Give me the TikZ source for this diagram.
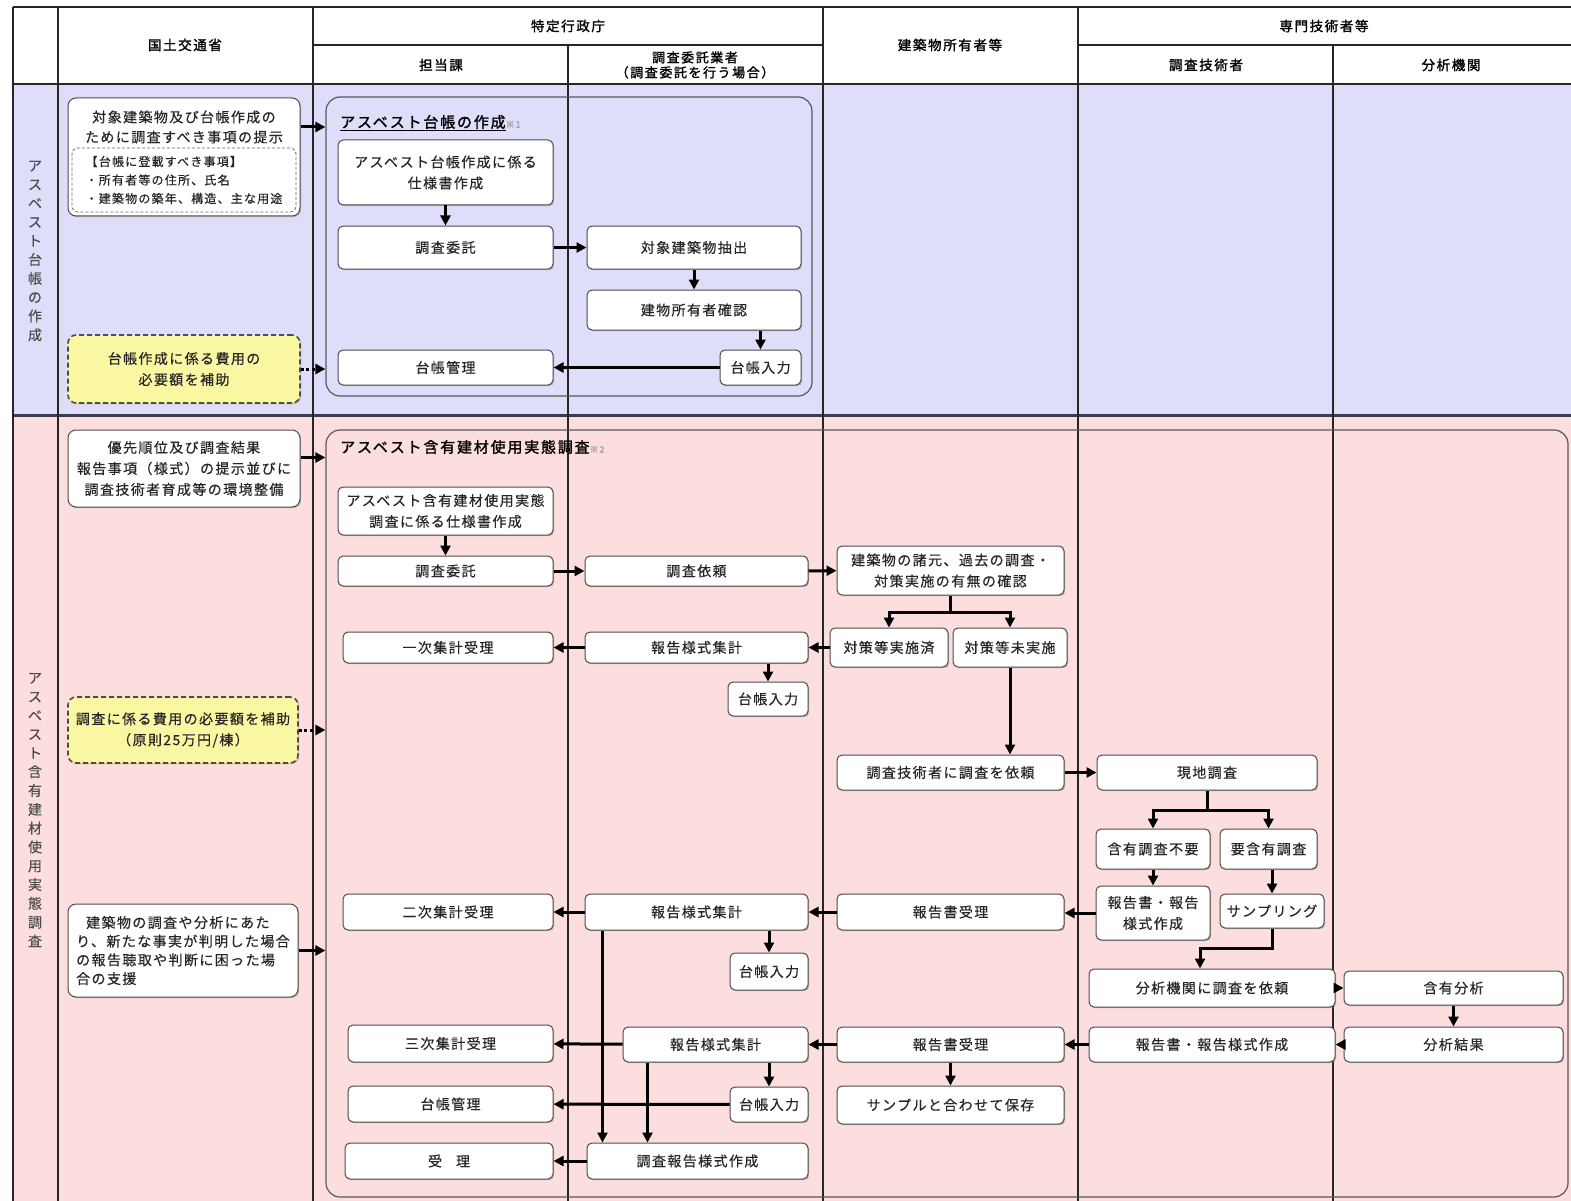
\documentclass[tikz,border=0pt]{standalone}
\usepackage{fontspec}
\newfontfamily\jp{Noto Sans CJK JP}[LetterSpace=10,FakeBold=0.4]
\newfontfamily\jpb{Noto Sans CJK JP}[LetterSpace=12,FakeBold=1.6]
\usetikzlibrary{arrows.meta,shadows}
\definecolor{lav}{HTML}{DEDEFA}
\definecolor{pnk}{HTML}{FDDEDE}
\definecolor{ylw}{HTML}{FAF7A2}
\definecolor{divc}{HTML}{3C3C52}

\begin{document}
\begin{tikzpicture}[x=1pt,y=-1pt,
    box/.style={draw=black!70, fill=white, rounded corners=5pt, line width=1pt,
                align=center, inner sep=0pt, text=black!85,
                drop shadow={shadow xshift=1.2pt, shadow yshift=-1.2pt, fill=black!50, opacity=0.45},
                font=\jp\fontsize{14}{21}\selectfont},
    aid/.style={box, fill=ylw, dash pattern=on 5pt off 3pt, line width=1.6pt, rounded corners=8pt},
    note/.style={draw=black!60, dash pattern=on 3pt off 2pt, rounded corners=6pt, line width=0.8pt,
                 align=left, inner sep=0pt, text=black!85, font=\jp\fontsize{12}{18.5}\selectfont},
    group/.style={draw=black!65, line width=1.2pt, rounded corners=14pt, inner sep=0pt},
    head/.style={font=\jpb\fontsize{13.5}{16}\selectfont, align=center},
    lane/.style={font=\jp\fontsize{14}{18.8}\selectfont, align=center, text=black!70},
    arr/.style={line width=3pt, -{Triangle[length=10pt,width=10pt]}},
    dotarr/.style={arr, dash pattern=on 3pt off 2.6pt},
    colline/.style={line width=1.4pt, black!85}]
  \useasboundingbox (0,0) rectangle (1571,1201);

  % lane backgrounds
  \fill[lav] (13,84) rectangle (1571,415);
  \fill[pnk] (13,415) rectangle (1571,1201);

  % table lines
  \draw[colline, line width=2pt] (13,7) -- (1571,7);
  \draw[colline] (313,45) -- (823,45) (1078,45) -- (1571,45);
  \draw[colline, line width=2pt] (13,84) -- (1571,84);
  \draw[divc, line width=3pt] (13,415) -- (1571,415);
  \foreach \x in {13,58,313,823,1078}
    \draw[colline] (\x,7) -- (\x,1201);
  \foreach \x in {568,1333}
    \draw[colline] (\x,45) -- (\x,1201);

  % header
  \node[head] (hmlit) at (185,45) {国土交通省};
  \node[head] (htoku) at (568,26) {特定行政庁};
  \node[head] (htanto) at (441,65) {担当課};
  \node[head, font=\jpb\fontsize{13}{15}\selectfont] (hitaku) at (695,65) {調査委託業者\\（調査委託を行う場合）};
  \node[head] (howner) at (950,45) {建築物所有者等};
  \node[head] (hsenmon) at (1324,26) {専門技術者等};
  \node[head] (hgishi) at (1206,65) {調査技術者};
  \node[head] (hbunseki) at (1451,65) {分析機関};

  \node[lane] (lane1) at (35,251) {ア\\ス\\ベ\\ス\\ト\\台\\帳\\の\\作\\成};
  \node[lane] (lane2) at (35,810) {ア\\ス\\ベ\\ス\\ト\\含\\有\\建\\材\\使\\用\\実\\態\\調\\査};

  % groups
  \node[group, minimum width=486, minimum height=299] (g1) at (569,246.5) {};
  \node[group, minimum width=1242, minimum height=767] (g2) at (947,813.5) {};
  \node[anchor=west, inner sep=0pt, font=\jpb\fontsize{15}{18}\selectfont] (g1title) at (340,123)
    {\underline{アスベスト台帳の作成}\textcolor{black!40}{\jp\fontsize{9}{9}\selectfont ※1}};
  \node[anchor=west, inner sep=0pt, font=\jpb\fontsize{15}{18}\selectfont] (g2title) at (340,447)
    {アスベスト含有建材使用実態調査\textcolor{black!40}{\jp\fontsize{9}{9}\selectfont ※2}};

  % ---- アスベスト台帳の作成
  \node[box, minimum width=232, minimum height=118, rounded corners=8pt] (tdai) at (184,157) {};
  \node[align=center, text=black!85, font=\jp\fontsize{14}{20}\selectfont] (tdaitext) at (184,127)
    {対象建築物及び台帳作成の\\ために調査すべき事項の提示};
  \node[note, minimum width=224, minimum height=64] (tnote) at (184,180)
    {【台帳に登載すべき事項】\\・所有者等の住所、氏名\\・建築物の築年、構造、主な用途};
  \node[aid, minimum width=232, minimum height=68] (hojo1) at (184,369) {台帳作成に係る費用の\\必要額を補助};

  \node[box, minimum width=215, minimum height=65] (shiyo1) at (445.5,172.5) {アスベスト台帳作成に係る\\仕様書作成};
  \node[box, minimum width=215, minimum height=43] (itaku1) at (445.5,247.5) {調査委託};
  \node[box, minimum width=214, minimum height=43] (chusyutsu) at (694,247.5) {対象建築物抽出};
  \node[box, minimum width=214, minimum height=40] (kakunin) at (694,310) {建物所有者確認};
  \node[box, minimum width=81, minimum height=35] (nyuryoku1) at (760.5,367.5) {台帳入力};
  \node[box, minimum width=215, minimum height=35] (kanri1) at (445.5,367.5) {台帳管理};

  \draw[arr] (tdai.east |- tdaitext) -- (g1.west |- tdaitext);
  \draw[dotarr] (hojo1.east) -- (g1.west |- hojo1.east);
  \draw[arr] (shiyo1) -- (itaku1);
  \draw[arr] (itaku1) -- (chusyutsu);
  \draw[arr] (chusyutsu) -- (kakunin);
  \draw[arr] (kakunin.south -| nyuryoku1) -- (nyuryoku1.north);
  \draw[arr] (nyuryoku1) -- (kanri1);

  % ---- アスベスト含有建材使用実態調査
  \node[box, minimum width=232, minimum height=77, rounded corners=8pt] (yusen) at (184,468.5)
    {優先順位及び調査結果\\報告事項（様式）の提示並びに\\調査技術者育成等の環境整備};
  \node[aid, minimum width=230, minimum height=66] (hojo2) at (183,730) {調査に係る費用の必要額を補助\\（原則25万円/棟）};
  \node[box, minimum width=230, minimum height=93, rounded corners=8pt, align=left,
        font=\jp\fontsize{14}{18.7}\selectfont] (shien) at (183,950.5)
    {\hspace{10pt}建築物の調査や分析にあた\\り、新たな事実が判明した場合\\の報告聴取や判断に困った場\\合の支援};

  \node[box, minimum width=215, minimum height=48] (shiyo2) at (445.5,511) {アスベスト含有建材使用実態\\調査に係る仕様書作成};
  \node[box, minimum width=215, minimum height=30] (itaku2) at (445.5,571) {調査委託};
  \node[box, minimum width=223, minimum height=30] (irai) at (696.5,571) {調査依頼};
  \node[box, minimum width=227, minimum height=49] (shogen) at (950.5,570.5) {建築物の諸元、過去の調査・\\対策実施の有無の確認};
  \node[box, minimum width=118, minimum height=39] (sumi) at (889,647.5) {対策等実施済};
  \node[box, minimum width=114, minimum height=39] (mijisshi) at (1010,647.5) {対策等未実施};
  \node[box, minimum width=223, minimum height=31] (shukei1) at (696.5,647.5) {報告様式集計};
  \node[box, minimum width=210, minimum height=31] (ichiji) at (448,647.5) {一次集計受理};
  \node[box, minimum width=80, minimum height=34] (nyuryoku2) at (768,699) {台帳入力};

  \node[box, minimum width=227, minimum height=35] (gijutsu) at (950.5,772.5) {調査技術者に調査を依頼};
  \node[box, minimum width=220, minimum height=35] (genchi) at (1207,772.5) {現地調査};
  \node[box, minimum width=114, minimum height=40] (fuyo) at (1153,849) {含有調査不要};
  \node[box, minimum width=97, minimum height=40] (yo) at (1268.5,849) {要含有調査};
  \node[box, minimum width=114, minimum height=54] (hokoku1) at (1153,913) {報告書・報告\\様式作成};
  \node[box, minimum width=104, minimum height=34] (sampling) at (1272,911) {サンプリング};
  \node[box, minimum width=227, minimum height=36] (juri1) at (950.5,912) {報告書受理};
  \node[box, minimum width=223, minimum height=36] (shukei2) at (696.5,912) {報告様式集計};
  \node[box, minimum width=210, minimum height=36] (niji) at (448,912) {二次集計受理};
  \node[box, minimum width=78, minimum height=37] (nyuryoku3) at (769,971.5) {台帳入力};

  \node[box, minimum width=246, minimum height=38] (bunseki) at (1212,988) {分析機関に調査を依頼};
  \node[box, minimum width=219, minimum height=34] (ganyu) at (1453.5,988) {含有分析};
  \node[box, minimum width=219, minimum height=35] (kekka) at (1453.5,1044.5) {分析結果};
  \node[box, minimum width=246, minimum height=35] (hokoku2) at (1212,1044.5) {報告書・報告様式作成};
  \node[box, minimum width=227, minimum height=35] (juri2) at (950.5,1044.5) {報告書受理};
  \node[box, minimum width=227, minimum height=38] (hozon) at (950.5,1105) {サンプルと合わせて保存};
  \node[box, minimum width=185, minimum height=35] (shukei3) at (715.5,1044.5) {報告様式集計};
  \node[box, minimum width=205, minimum height=37] (sanji) at (450.5,1043.5) {三次集計受理};
  \node[box, minimum width=78, minimum height=35] (nyuryoku4) at (769,1104.5) {台帳入力};
  \node[box, minimum width=205, minimum height=36] (kanri2) at (450.5,1104) {台帳管理};
  \node[box, minimum width=221, minimum height=36] (chosa) at (697.5,1161) {調査報告様式作成};
  \node[box, minimum width=208, minimum height=36] (uketori) at (449,1161) {受\hspace{14pt}理};

  \coordinate (yusenout) at ([yshift=11pt]yusen.east);
  \draw[arr] (yusenout) -- (g2.west |- yusenout);
  \draw[dotarr] (hojo2.east) -- (g2.west |- hojo2.east);
  \draw[arr] (shien.east) -- (g2.west |- shien.east);

  \draw[arr] (shiyo2) -- (itaku2);
  \draw[arr] (itaku2) -- (irai);
  \draw[arr] (irai) -- (shogen);
  \draw[arr] (shogen.south) -- ++(0,17) -| (sumi.north);
  \draw[arr] (shogen.south) -- ++(0,17) -| (mijisshi.north);
  \draw[arr] (sumi) -- (shukei1);
  \draw[arr] (shukei1) -- (ichiji);
  \draw[arr] (shukei1.south -| nyuryoku2) -- (nyuryoku2.north);
  \draw[arr] (mijisshi.south) -- (mijisshi.south |- gijutsu.north);
  \draw[arr] (gijutsu) -- (genchi);
  \draw[arr] (genchi.south) -- ++(0,20) -| (fuyo.north);
  \draw[arr] (genchi.south) -- ++(0,20) -| (yo.north);
  \draw[arr] (fuyo) -- (hokoku1);
  \draw[arr] (yo.south -| sampling) -- (sampling.north);
  \coordinate (bunsekiin) at ([xshift=-12pt]bunseki.north);
  \draw[arr] (sampling.south) -- ++(0,20) -| (bunsekiin);
  \draw[arr] (bunseki) -- (ganyu);
  \draw[arr] (ganyu) -- (kekka);
  \draw[arr] (kekka) -- (hokoku2);
  \draw[arr] (hokoku2) -- (juri2);
  \draw[arr] (juri2) -- (hozon);
  \draw[arr] (juri2) -- (shukei3);
  \draw[arr] (hokoku1.west) -- (juri1.east |- hokoku1.west);
  \draw[arr] (juri1) -- (shukei2);
  \draw[arr] (shukei2) -- (niji);
  \draw[arr] (shukei2.south -| nyuryoku3) -- (nyuryoku3.north);
  \draw[arr] (shukei3) -- (sanji);
  \draw[arr] (shukei3.south -| nyuryoku4) -- (nyuryoku4.north);
  \draw[arr] (nyuryoku4) -- (kanri2);
  \coordinate (s2out) at ([xshift=18pt]shukei2.south west);
  \coordinate (s3out) at ([xshift=25pt]shukei3.south west);
  \draw[arr] (s2out) -- (s2out |- chosa.north);
  \draw[arr] (s3out) -- (s3out |- chosa.north);
  \draw[arr] (chosa) -- (uketori);
\end{tikzpicture}
\end{document}
